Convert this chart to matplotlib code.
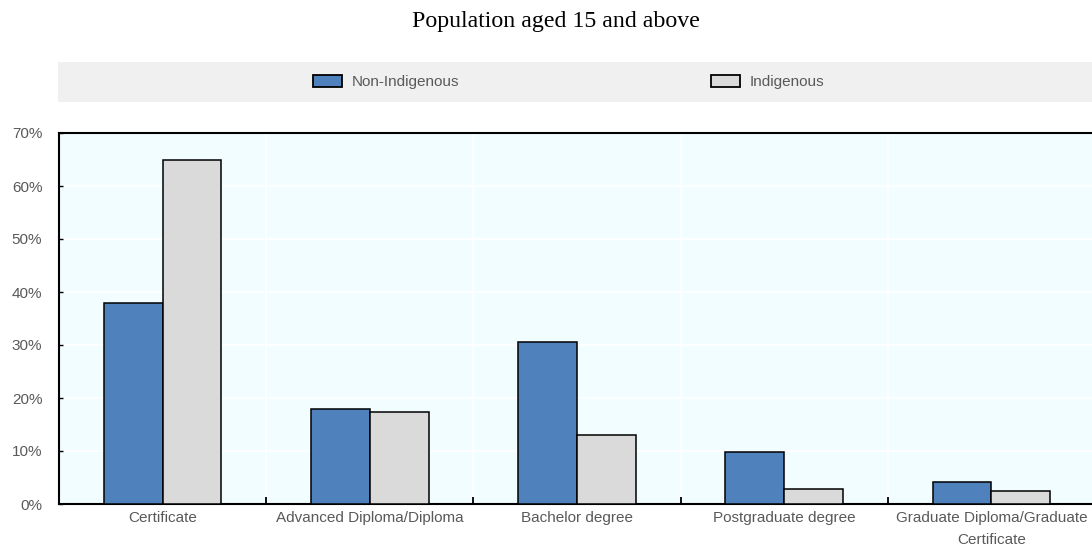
import matplotlib
matplotlib.use("Agg")
import matplotlib.pyplot as plt
from matplotlib.patches import Rectangle, Patch
from matplotlib.ticker import FuncFormatter, FixedLocator
import numpy as np

categories = ["Certificate", "Advanced Diploma/Diploma", "Bachelor degree",
              "Postgraduate degree", "Graduate Diploma/Graduate\nCertificate"]
non_indigenous = [38.0, 18.0, 30.5, 9.8, 4.2]
indigenous = [65.0, 17.3, 13.1, 2.8, 2.5]
series_names = ["Non-Indigenous", "Indigenous"]
yticks = [0, 10, 20, 30, 40, 50, 60, 70]

blue = "#4F81BD"
grey = "#DADADA"
label_col = "#595959"
sans = ["Liberation Sans", "DejaVu Sans"]
fs = 11

fig = plt.figure(figsize=(10.92, 5.49), dpi=100)
ax = fig.add_axes([59/1092, 1-504/549, 1-59/1092, (504-133)/549])
ax.set_facecolor("#F2FDFF")

x = np.arange(len(categories))
w = 0.284
ax.bar(x - w/2, non_indigenous, width=w, color=blue, edgecolor="black", linewidth=1.1, zorder=3)
ax.bar(x + w/2, indigenous, width=w, color=grey, edgecolor="black", linewidth=1.1, zorder=3)

ax.set_xlim(-0.5, len(categories) - 0.5 - 0.015)
ax.set_ylim(0, 70)
ax.set_yticks(yticks)
ax.yaxis.set_major_formatter(FuncFormatter(lambda v, p: f"{int(v)}%"))
ax.set_xticks(x)
ax.set_xticklabels(categories)
ax.xaxis.set_minor_locator(FixedLocator(np.arange(len(categories)) + 0.5))
ax.tick_params(axis="x", which="major", length=0, pad=5, labelsize=fs, labelcolor=label_col)
ax.tick_params(axis="x", which="minor", direction="in", length=5, width=1.3, color="black")
ax.tick_params(axis="y", direction="in", length=3, width=1, color="black", pad=12,
               labelsize=fs, labelcolor=label_col)
for lab in ax.get_xticklabels() + ax.get_yticklabels():
    lab.set_family(sans)
for lab in ax.get_xticklabels():
    lab.set_linespacing(1.75)

ax.grid(True, axis="y", color="white", linewidth=1.2, zorder=1)
ax.grid(True, axis="x", which="minor", color="white", linewidth=1.2, zorder=1)
ax.grid(False, axis="x", which="major")

for s in ["left", "bottom", "top"]:
    ax.spines[s].set_color("black")
    ax.spines[s].set_linewidth(1.5)
ax.spines["right"].set_visible(False)

# legend band
fig.patches.append(Rectangle((58/1092, 1-102/549), 1-58/1092, 40/549,
                             transform=fig.transFigure, facecolor="#F0F0F0",
                             edgecolor="none", zorder=0))
colors = [blue, grey]
anchors = [313/1092, 711/1092]
for name, col, ax_x in zip(series_names, colors, anchors):
    h = Patch(facecolor=col, edgecolor="black", linewidth=1.3)
    leg = fig.legend([h], [name], loc="center left",
                     bbox_to_anchor=(ax_x, 1-82/549), frameon=False,
                     fontsize=fs, handlelength=1.9, handleheight=0.9, handletextpad=0.65,
                     borderaxespad=0, borderpad=0)
    for t in leg.get_texts():
        t.set_color(label_col)
        t.set_family(sans)

fig.text(556/1092, 1-22/549, "Population aged 15 and above", ha="center", va="center",
         fontsize=17.2, family=["Liberation Serif", "DejaVu Serif"], color="black")

fig.savefig("out.png", dpi=100)
